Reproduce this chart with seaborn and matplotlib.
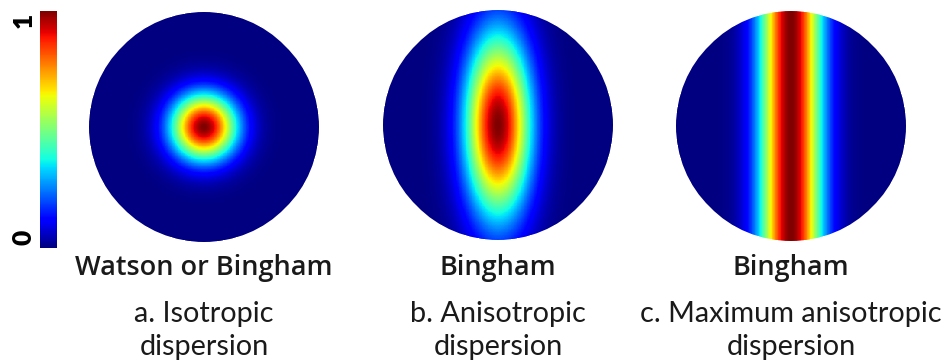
import numpy as np
import pandas as pd
import matplotlib
matplotlib.use("Agg")
import matplotlib.pyplot as plt
from matplotlib.patches import Circle
import seaborn as sns

# Panel labels
panel_titles = ["Watson or Bingham", "Bingham", "Bingham"]
caption_first = ["a. Isotropic", "b. Anisotropic", "c. Maximum anisotropic"]
caption_second = ["dispersion", "dispersion", "dispersion"]

# Concentration of each orientation distribution along the horizontal
# and vertical axes of the projected hemisphere
kappa_horizontal = [12.5, 12.5, 14.0]
kappa_vertical = [12.5, 1.65, 0.0]

# Colour bar end labels
cbar_low, cbar_high = "0", "1"

sns.set_theme(style="white")
plt.rcParams["font.family"] = ["Lato", "DejaVu Sans"]

W, H = 944, 364
fig = plt.figure(figsize=(W / 100, H / 100), dpi=100)
fig.patch.set_facecolor("white")

def fig_box(x0, y0, x1, y1):
    return [x0 / W, 1 - y1 / H, (x1 - x0) / W, (y1 - y0) / H]

disk_boxes = [fig_box(89, 12, 319, 242), fig_box(383, 10, 613, 240), fig_box(676, 11, 906, 241)]
cbar_ax = fig.add_axes(fig_box(40, 11, 57, 248))

n = 301
grid = np.linspace(-1, 1, n)
u, v = np.meshgrid(grid, grid)
outside = (u ** 2 + v ** 2) > 1.0 + 4.0 / n

for i, box in enumerate(disk_boxes):
    ax = fig.add_axes(box)
    density = np.exp(-kappa_horizontal[i] * u ** 2 - kappa_vertical[i] * v ** 2)
    density = density / density.max()
    frame = pd.DataFrame(density)
    sns.heatmap(frame, ax=ax, cmap="jet", vmin=0, vmax=1, mask=outside,
                xticklabels=False, yticklabels=False,
                cbar=(i == 0), cbar_ax=cbar_ax if i == 0 else None,
                rasterized=True)
    mesh = ax.collections[0]
    clip = Circle((n / 2, n / 2), n / 2, transform=ax.transData)
    mesh.set_clip_path(clip)
    ax.set_xlim(0, n)
    ax.set_ylim(n, 0)
    ax.axis("off")

    cx = (box[0] + box[2] / 2)
    fig.text(cx, 1 - 275 / H, panel_titles[i], ha="center", va="baseline",
             fontsize=19.5, fontweight="semibold", family=["Open Sans", "DejaVu Sans"],
             color="#1a1a1a")
    fig.text(cx, 1 - 322 / H, caption_first[i], ha="center", va="baseline",
             fontsize=20.8, color="#1a1a1a")
    fig.text(cx, 1 - 355 / H, caption_second[i], ha="center", va="baseline",
             fontsize=20.8, color="#1a1a1a")

cbar_ax.set_yticks([])
cbar_ax.set_xticks([])
for s in cbar_ax.spines.values():
    s.set_visible(False)

fig.text(24 / W, 1 - 20 / H, cbar_high, rotation=90, ha="center", va="center",
         fontsize=19, fontweight="heavy", color="black")
fig.text(24 / W, 1 - 237 / H, cbar_low, rotation=90, ha="center", va="center",
         fontsize=19, fontweight="heavy", color="black")

fig.savefig("out.png", dpi=100, facecolor="white")
